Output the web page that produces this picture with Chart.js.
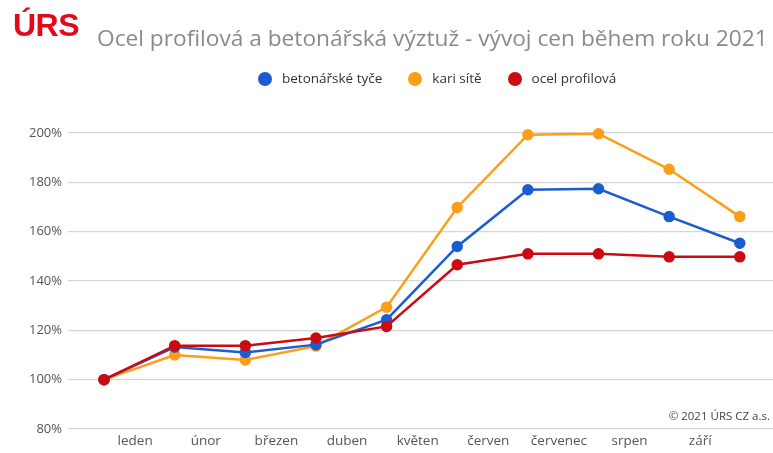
<!DOCTYPE html>
<html>
<head>
<meta charset="utf-8">
<script src="https://cdn.jsdelivr.net/npm/chart.js@4"></script>
<style>
  html, body { margin: 0; background: #fff; overflow: hidden; }
  #wrap { position: relative; width: 773px; height: 453px; overflow: hidden; }
  #chartBox { position: absolute; left: 0; top: 0; width: 773px; height: 453px; }
  #chartBox canvas { display: block; }
  #logo { position: absolute; left: 13px; top: 7px; font: bold 32px "Liberation Sans", Arial, sans-serif; color: #e4081a; letter-spacing: -0.5px; }
  #title { position: absolute; left: 97px; top: 22px; font: 22.7px "Open Sans", sans-serif; color: #8a8a8a; white-space: nowrap; }
  #legend { position: absolute; top: 69px; left: 258px; font: 13.5px "Open Sans", sans-serif; color: #333; white-space: nowrap; }
  #legend span.item { display: inline-block; margin-right: 26px; }
  #legend span.dot { display: inline-block; width: 14px; height: 14px; border-radius: 50%; vertical-align: -3px; margin-right: 10px; }
  #copy { position: absolute; right: 3px; top: 408px; font: 11.5px "Open Sans", sans-serif; color: #444; }
</style>
</head>
<body>
<div id="wrap">
  <div id="chartBox"><canvas id="priceChart"></canvas></div>
  <div id="logo">ÚRS</div>
  <div id="title">Ocel profilová a betonářská výztuž - vývoj cen během roku 2021</div>
  <div id="legend"></div>
  <div id="copy">© 2021 ÚRS CZ a.s.</div>
</div>
<script>
// months shown between the points
var months = ["leden", "únor", "březen", "duben", "květen", "červen", "červenec", "srpen", "září"];

// index values in %, start of year = 100
var betonarskeTyce = [100, 113.2, 111, 114.2, 124.3, 154, 177, 177.4, 166.1, 155.3];
var kariSite = [100, 110, 108, 113.6, 129.4, 169.8, 199.3, 199.7, 185.3, 166.1];
var ocelProfilova = [100, 113.8, 113.8, 116.9, 121.6, 146.6, 151, 151, 149.8, 149.8];

var yTicks = [80, 100, 120, 140, 160, 180, 200];

function toPoints(values) {
  return values.map(function (v, i) { return { x: i, y: v }; });
}

function makeSet(label, values, color) {
  return {
    label: label,
    data: toPoints(values),
    borderColor: color,
    backgroundColor: color,
    borderWidth: 2.5,
    pointRadius: 4.5,
    pointHoverRadius: 4.5,
    tension: 0,
    clip: false
  };
}

document.addEventListener('DOMContentLoaded', function () {
  var datasets = [
    makeSet("betonářské tyče", betonarskeTyce, "#1b5cd2"),
    makeSet("kari sítě", kariSite, "#fb9e1a"),
    makeSet("ocel profilová", ocelProfilova, "#cc0a12")
  ];
  // red on top, like the reference
  datasets[0].order = 2;
  datasets[1].order = 3;
  datasets[2].order = 1;

  new Chart(document.getElementById("priceChart"), {
    type: "line",
    data: { datasets: datasets },
    options: {
      responsive: true,
      maintainAspectRatio: false,
      animation: false,
      layout: { autoPadding: false, padding: { top: 133, right: 0, left: 0, bottom: 0 } },
      plugins: {
        legend: { display: false },
        title: { display: false },
        tooltip: { enabled: false }
      },
      scales: {
        x: {
          type: "linear",
          min: -0.51,
          max: 9.47,
          afterBuildTicks: function (scale) {
            scale.ticks = months.map(function (m, i) { return { value: i + 0.44 }; });
          },
          afterFit: function (scale) {
            scale.height = 24;
            scale.paddingLeft = 0;
            scale.paddingRight = 0;
          },
          ticks: {
            autoSkip: false,
            maxRotation: 0,
            padding: 4,
            color: "#555",
            font: { family: "Open Sans", size: 13.5 },
            callback: function (value) { return months[Math.floor(value)]; }
          },
          grid: { display: false, drawTicks: false },
          border: { display: false }
        },
        y: {
          min: 80,
          max: 200,
          afterBuildTicks: function (scale) {
            scale.ticks = yTicks.map(function (v) { return { value: v }; });
          },
          afterFit: function (scale) { scale.width = 68; },
          ticks: {
            padding: 6,
            color: "#555",
            font: { family: "Open Sans", size: 13 },
            callback: function (value) { return value + "%"; }
          },
          grid: { color: "#d6d6d6", lineWidth: 1.3, drawTicks: false },
          border: { display: false }
        }
      }
    }
  });

  var legend = document.getElementById("legend");
  datasets.forEach(function (ds) {
    var item = document.createElement("span");
    item.className = "item";
    var dot = document.createElement("span");
    dot.className = "dot";
    dot.style.background = ds.borderColor;
    item.appendChild(dot);
    item.appendChild(document.createTextNode(ds.label));
    legend.appendChild(item);
  });
});
</script>
</body>
</html>
